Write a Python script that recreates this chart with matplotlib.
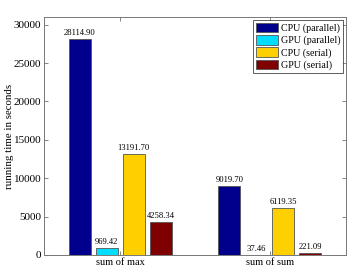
import matplotlib
matplotlib.use("Agg")
import matplotlib.pyplot as plt
import numpy as np

categories = ["sum of max", "sum of sum"]
series = ["CPU (parallel)", "GPU (parallel)", "CPU (serial)", "GPU (serial)"]
cpu_parallel = [28114.90, 9019.70]
gpu_parallel = [969.42, 37.46]
cpu_serial = [13191.70, 6119.35]
gpu_serial = [4258.34, 221.09]
values = [cpu_parallel, gpu_parallel, cpu_serial, gpu_serial]
colors = ["#00008C", "#00DDFF", "#FFD000", "#7F0000"]
yticks = [0, 5000, 10000, 15000, 20000, 25000, 30000]

plt.rcParams['font.family'] = ['Liberation Serif', 'DejaVu Serif']

fig = plt.figure(figsize=(3.51, 2.69), dpi=100)
ax = fig.add_axes([44/351, 1-255/269, (346-44)/351, (255-17)/269])

x = np.arange(1, len(categories) + 1)
spacing = 0.18
width = 0.147
for i, (name, vals, c) in enumerate(zip(series, values, colors)):
    pos = x + (i - 1.5) * spacing
    ax.bar(pos, vals, width=width, color=c, edgecolor="#555555", linewidth=0.6, label=name)
    for p, v in zip(pos, vals):
        ax.text(p, v + 250, f"{v:.2f}", ha="center", va="bottom", fontsize=6.2)

ax.set_xlim(0.49, 2.51)
ax.set_ylim(0, 31000)
ax.set_xticks(x)
ax.set_xticklabels(categories, fontsize=7.5)
ax.set_yticks(yticks)
ax.set_yticklabels([str(t) for t in yticks], fontsize=8)
ax.tick_params(direction="in", length=3, width=0.5, top=True, right=True, colors="#555555", labelcolor="black", pad=2)
for s in ax.spines.values():
    s.set_color("#777777")
    s.set_linewidth(0.7)
ax.set_ylabel("running time in seconds", fontsize=7.8)
ax.yaxis.set_label_coords(-30/302, 0.5)

leg = ax.legend(loc="upper right", fontsize=7.2, frameon=True, fancybox=False,
                edgecolor="#333333", handlelength=2.2, handleheight=1.1,
                handletextpad=0.3, borderpad=0.25, labelspacing=0.2,
                borderaxespad=0.3)
leg.get_frame().set_linewidth(0.7)

fig.savefig("out.png", dpi=100)
